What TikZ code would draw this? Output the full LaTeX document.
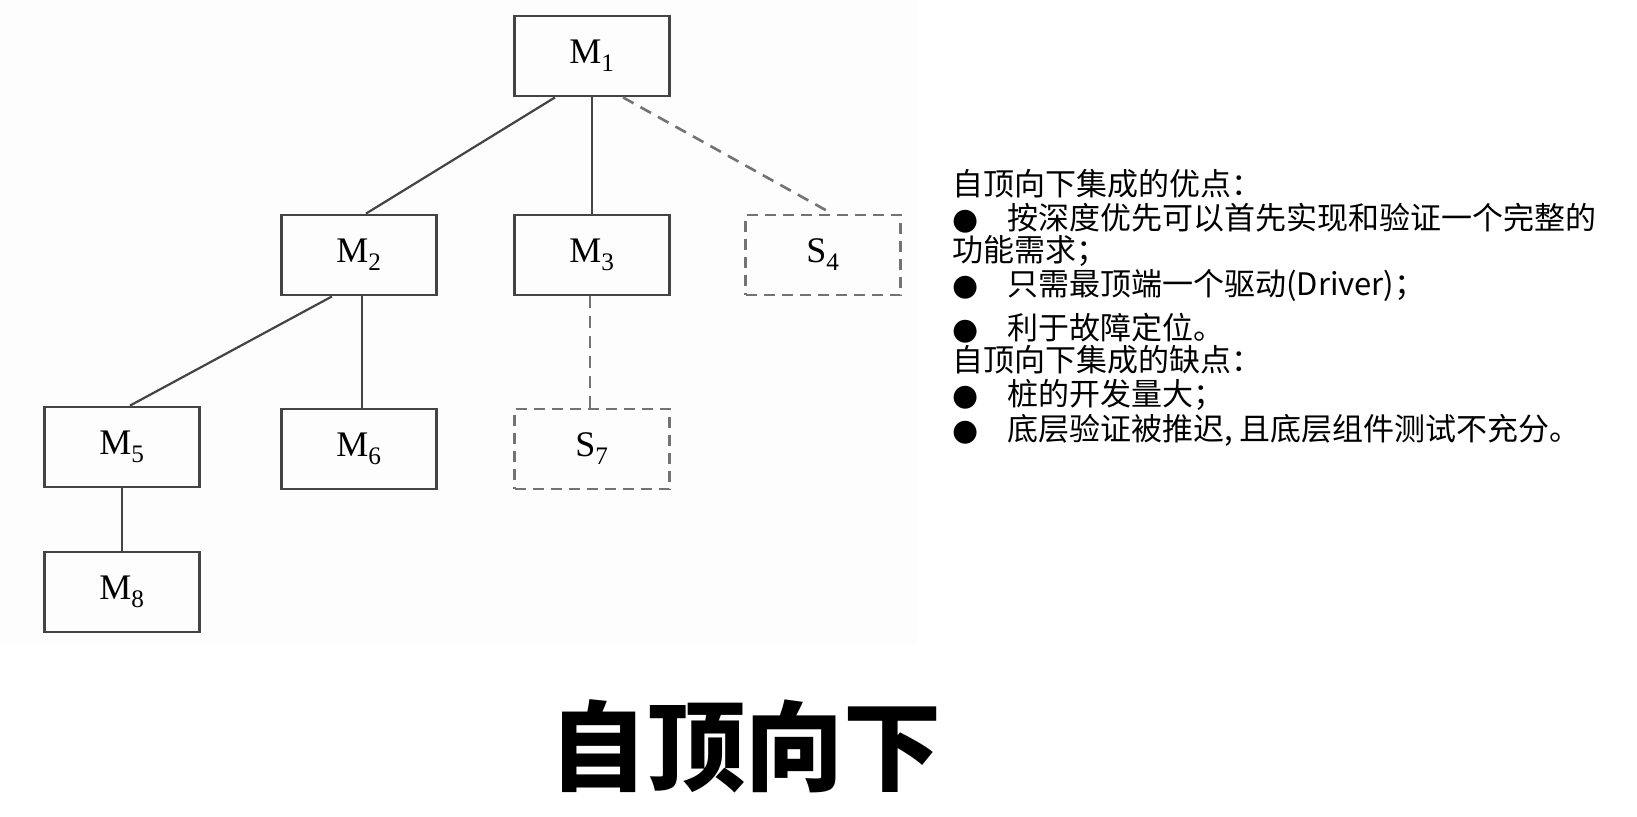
\documentclass[tikz,border=0pt]{standalone}
\usepackage{fontspec}
\usepackage{tikz}
\usetikzlibrary{positioning}
\setmainfont{Liberation Serif}
\newfontfamily\cjk{Noto Sans CJK SC}
\newfontfamily\dejavu{DejaVu Sans}
\definecolor{cdark}{RGB}{68,68,68}
\definecolor{cgray}{RGB}{115,115,115}
\definecolor{cbg}{RGB}{253,253,253}
\newcommand{\bul}{\makebox[55pt][l]{\fontsize{30}{30}\dejavu ●}}
\tikzset{
  modbox/.style={rectangle, draw=cdark, line width=2.8pt,
    minimum width=155pt, minimum height=80pt, inner sep=0pt,
    font=\fontsize{36}{36}\selectfont},
  stubbox/.style={modbox, draw=cgray, dash pattern=on 11pt off 7pt},
  link/.style={line width=2.2pt, color=cdark},
  stublink/.style={link, color=cgray, line width=2.6pt, dash pattern=on 12pt off 8pt},
  note/.style={anchor=base west, inner sep=0pt,
    font=\cjk\fontsize{31}{34}\selectfont}
}

\begin{document}
\begin{tikzpicture}[x=1pt, y=-1pt]
    \useasboundingbox (0,0) rectangle (1637,816);
    \fill[cbg] (0,0) rectangle (917,645);

    % module tree
    \node[modbox]  (m1) at (592,56)  {M\textsubscript{1}};
    \node[modbox]  (m2) at (359,255) {M\textsubscript{2}};
    \node[modbox]  (m3) at (592,255) {M\textsubscript{3}};
    \node[stubbox] (s4) at (823,255) {S\textsubscript{4}};
    \node[modbox]  (m5) at (122,447) {M\textsubscript{5}};
    \node[modbox]  (m6) at (359,449) {M\textsubscript{6}};
    \node[stubbox] (s7) at (592,449) {S\textsubscript{7}};
    \node[modbox]  (m8) at (122,592) {M\textsubscript{8}};

    \draw[link]     ([xshift=-37pt]m1.south) -- ([xshift=7pt]m2.north);
    \draw[link]     (m1) -- (m3);
    \draw[stublink] ([xshift=31pt]m1.south) -- ([xshift=9pt]s4.north);
    \draw[link]     ([xshift=-27pt]m2.south) -- ([xshift=8pt]m5.north);
    \draw[link]     ([xshift=3pt]m2.south) -- ([xshift=3pt]m6.north);
    \draw[stublink] ([xshift=-2pt]m3.south) -- ([xshift=-2pt]s7.north);
    \draw[link]     (m5) -- (m8);

    % notes
    \node[note] (pro)  at (952,195) {自顶向下集成的优点：};
    \node[note] (pro1) at (952,229) {\bul 按深度优先可以首先实现和验证一个完整的};
    \node[note] (pro1b) at (952,261) {功能需求；};
    \node[note] (pro2) at (952,295) {\bul 只需最顶端一个驱动(Driver)；};
    \node[note] (pro3) at (952,339) {\bul 利于故障定位。};
    \node[note] (con)  at (952,371) {自顶向下集成的缺点：};
    \node[note] (con1) at (952,405) {\bul 桩的开发量大；};
    \node[note] (con2) at (952,440) {\bul 底层验证被推迟, 且底层组件测试不充分。};

    \node[anchor=base, inner sep=0pt, font=\cjk\bfseries\fontsize{98}{98}\selectfont]
      (title) at (745,783) {自顶向下};
\end{tikzpicture}
\end{document}
